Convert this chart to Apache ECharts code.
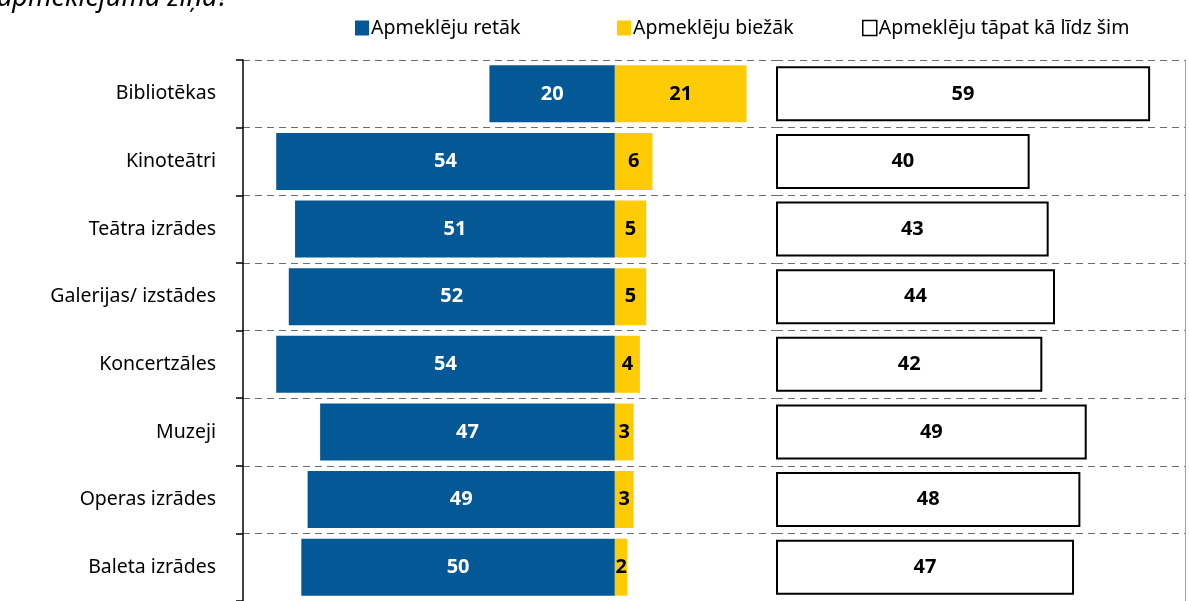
<!DOCTYPE html>
<html>
<head>
<meta charset="utf-8">
<script src="https://cdn.jsdelivr.net/npm/echarts@6/dist/echarts.min.js"></script>
<style>
    html, body { margin: 0; padding: 0; background: #fff; }
    #chart { width: 1189px; height: 601px; }
</style>
</head>
<body>
<div id="chart"></div>
<script>
// dati
const categories = ['Bibliotēkas', 'Kinoteātri', 'Teātra izrādes', 'Galerijas/ izstādes', 'Koncertzāles', 'Muzeji', 'Operas izrādes', 'Baleta izrādes']
const retak = [20, 54, 51, 52, 54, 47, 49, 50]
const biezak = [21, 6, 5, 5, 4, 3, 3, 2]
const tapat = [59, 40, 43, 44, 42, 49, 48, 47]

const FONT = '"Noto Sans", sans-serif'
const dashed = { show: true, lineStyle: { type: [7, 5], color: '#6e6e6e', width: 1 } }

// katram leģendas elementam sava vieta
const legendItem = (name, left, extra) => ({
    top: 13,
    left,
    icon: 'rect',
    itemWidth: 14,
    itemHeight: 15,
    textStyle: { fontSize: 19.5, color: '#000', padding: [0, 0, 0, -3] },
    data: [Object.assign({ name }, extra || {})]
})

const myChart = echarts.init(document.getElementById('chart'))
myChart.setOption({
    animation: false,
    textStyle: { fontFamily: FONT },
    graphic: [{
        type: 'text',
        left: -3,
        top: -15,
        style: { text: 'apmeklējuma ziņā?', font: 'italic 27px ' + FONT, fill: '#000' }
    }],
    legend: [
        legendItem('Apmeklēju retāk', 350),
        legendItem('Apmeklēju biežāk', 612),
        legendItem('Apmeklēju tāpat kā līdz šim', 857, { itemStyle: { borderWidth: 1.5 } })
    ],
    grid: [
        { left: 243, top: 60, width: 533, height: 544 },
        { left: 776, top: 60, right: 4, height: 544 }
    ],
    xAxis: [
        { gridIndex: 0, type: 'value', min: -59.3, max: 25.7, show: false },
        { gridIndex: 1, type: 'value', min: 0, max: 64.5, show: false }
    ],
    yAxis: [
        {
            gridIndex: 0,
            type: 'category',
            inverse: true,
            data: categories,
            axisLine: { show: true, onZero: false, lineStyle: { color: '#000', width: 1.5 } },
            axisTick: { show: true, length: 7, lineStyle: { color: '#000', width: 1.5 } },
            axisLabel: { fontSize: 19.5, color: '#000', margin: 27 },
            splitLine: dashed
        },
        {
            gridIndex: 1,
            type: 'category',
            inverse: true,
            position: 'right',
            data: categories,
            axisLine: { show: true, onZero: false, lineStyle: { color: '#a0a0a0', width: 1 } },
            axisTick: { show: false },
            axisLabel: { show: false },
            splitLine: dashed
        }
    ],
    series: [
        {
            name: 'Apmeklēju retāk',
            type: 'bar',
            stack: 'a',
            barWidth: 57,
            xAxisIndex: 0,
            yAxisIndex: 0,
            itemStyle: { color: '#035895' },
            label: {
                show: true, position: 'inside', color: '#fff', fontSize: 20, fontWeight: 'bold',
                formatter: p => Math.abs(p.value)
            },
            data: retak.map(v => -v)
        },
        {
            name: 'Apmeklēju biežāk',
            type: 'bar',
            stack: 'a',
            barWidth: 57,
            xAxisIndex: 0,
            yAxisIndex: 0,
            itemStyle: { color: '#ffcb05' },
            label: { show: true, position: 'inside', color: '#000', fontSize: 20, fontWeight: 'bold' },
            data: biezak
        },
        {
            name: 'Apmeklēju tāpat kā līdz šim',
            type: 'bar',
            barWidth: 55,
            xAxisIndex: 1,
            yAxisIndex: 1,
            itemStyle: { color: '#fff', borderColor: '#000', borderWidth: 2 },
            label: { show: true, position: 'inside', color: '#000', fontSize: 20, fontWeight: 'bold' },
            data: tapat
        }
    ]
})
</script>
</body>
</html>
